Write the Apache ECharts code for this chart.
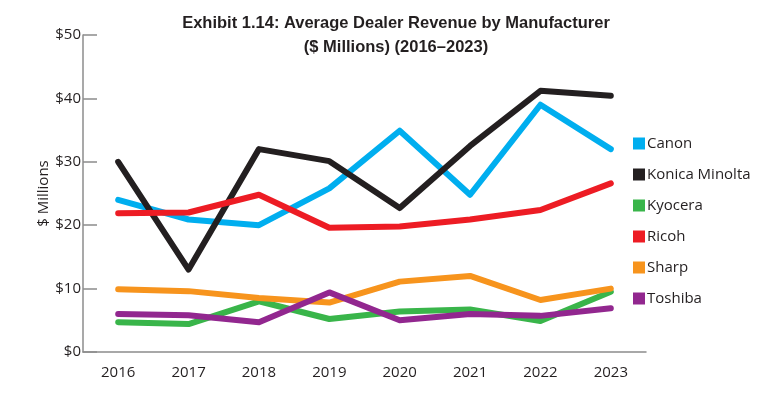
<!DOCTYPE html>
<html>
<head>
<meta charset="utf-8">
<script src="https://cdn.jsdelivr.net/npm/echarts@6/dist/echarts.min.js"></script>
<style>
  html, body { margin: 0; padding: 0; background: #fff; }
  #chart { width: 780px; height: 396px; }
</style>
</head>
<body>
<div id="chart"></div>
<script>
// chart data
const years = ['2016', '2017', '2018', '2019', '2020', '2021', '2022', '2023']
const canon = [24.0, 20.9, 20.0, 25.8, 34.9, 24.8, 39.0, 32.0]
const konicaMinolta = [30.0, 13.0, 32.0, 30.1, 22.7, 32.5, 41.2, 40.4]
const kyocera = [4.7, 4.4, 8.0, 5.2, 6.4, 6.7, 4.9, 9.5]
const ricoh = [21.9, 22.0, 24.8, 19.6, 19.8, 20.9, 22.4, 26.6]
const sharp = [9.9, 9.6, 8.5, 7.8, 11.1, 12.0, 8.2, 10.0]
const toshiba = [6.0, 5.8, 4.7, 9.4, 5.0, 6.0, 5.7, 6.9]

const font = 'Open Sans'
const textColor = '#231f20'
const axisColor = '#8c8c8c'

function line(name, data, color) {
    return {
        name: name,
        type: 'line',
        data: data,
        symbol: 'none',
        color: color,
        lineStyle: { width: 6, color: color, cap: 'round', join: 'round' }
    }
}

const chart = echarts.init(document.getElementById('chart'))
const option = {
    backgroundColor: '#fff',
    animation: false,
    title: {
        text: 'Exhibit 1.14: Average Dealer Revenue by Manufacturer\n($ Millions) (2016–2023)',
        left: 391,
        textAlign: 'center',
        top: 6,
        textStyle: {
            fontFamily: 'Liberation Sans',
            fontWeight: 'bold',
            fontSize: 16.5,
            lineHeight: 24,
            color: textColor
        }
    },
    legend: {
        orient: 'vertical',
        left: 628,
        top: 131,
        itemWidth: 12,
        itemHeight: 12,
        itemGap: 16,
        icon: 'rect',
        textStyle: { fontFamily: font, fontSize: 15, color: textColor, padding: [0, 0, 0, -3] },
        data: ['Canon', 'Konica Minolta', 'Kyocera', 'Ricoh', 'Sharp', 'Toshiba']
    },
    grid: { left: 83, top: 35, width: 563, bottom: 44 },
    xAxis: {
        type: 'category',
        data: years,
        boundaryGap: true,
        axisLine: { lineStyle: { color: axisColor, width: 1.5 } },
        axisTick: { inside: true, length: 8, lineStyle: { color: axisColor, width: 1.5 } },
        axisLabel: { fontFamily: font, fontSize: 15, color: textColor, margin: 13 }
    },
    yAxis: {
        type: 'value',
        min: 0,
        max: 50,
        interval: 10,
        name: '$ Millions',
        nameLocation: 'middle',
        nameGap: 32,
        nameMoveOverlap: false,
        nameTextStyle: { fontFamily: font, fontSize: 15, color: textColor },
        axisLine: { show: true, lineStyle: { color: axisColor, width: 1.5 } },
        axisTick: { show: true, inside: true, length: 14, lineStyle: { color: axisColor, width: 1.5 } },
        splitLine: { show: false },
        axisLabel: {
            fontFamily: font, fontSize: 15, color: textColor, margin: 2,
            formatter: function (v) { return '$' + v }
        }
    },
    series: [
        line('Canon', canon, '#00aeef'),
        line('Konica Minolta', konicaMinolta, '#231f20'),
        line('Kyocera', kyocera, '#39b54a'),
        line('Ricoh', ricoh, '#ed1c24'),
        line('Sharp', sharp, '#f7941d'),
        line('Toshiba', toshiba, '#92278f')
    ]
}
chart.setOption(option)
</script>
</body>
</html>
